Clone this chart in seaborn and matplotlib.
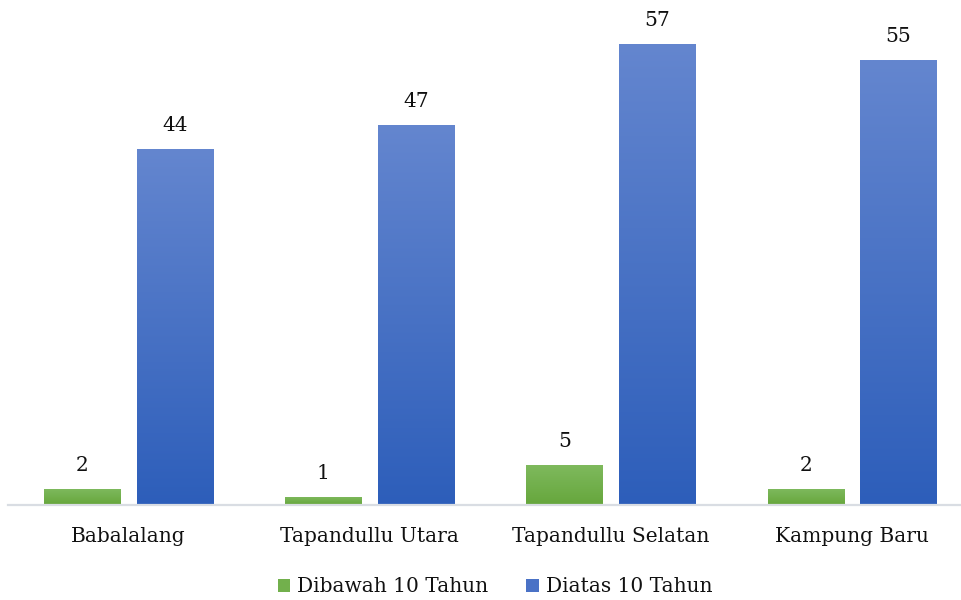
import numpy as np
import pandas as pd
import matplotlib
matplotlib.use("Agg")
import matplotlib.pyplot as plt
from matplotlib.patches import Patch
from matplotlib.colors import to_rgb
import seaborn as sns

# Data
regions = ["Babalalang", "Tapandullu Utara", "Tapandullu Selatan", "Kampung Baru"]
series_names = ["Dibawah 10 Tahun", "Diatas 10 Tahun"]
under_10 = [2, 1, 5, 2]
over_10 = [44, 47, 57, 55]

# Gradient colours per series: (top, bottom)
gradients = {
    "Dibawah 10 Tahun": ("#7fba5e", "#66a63c"),
    "Diatas 10 Tahun": ("#6486cf", "#2d5eba"),
}
legend_colors = {"Dibawah 10 Tahun": "#72b04c", "Diatas 10 Tahun": "#4a72c6"}

df = pd.DataFrame({
    "Wilayah": regions * 2,
    "Kelompok": [series_names[0]] * len(regions) + [series_names[1]] * len(regions),
    "Jumlah": under_10 + over_10,
})

sns.set_theme(style="white")
plt.rcParams["font.family"] = ["DejaVu Serif"]
text_color = "#111111"
fs = 14.5

fig = plt.figure(figsize=(9.62, 6.0), dpi=100)
ax = fig.add_axes([8 / 962, 95 / 600, 953 / 962, 495 / 600])

palette = {k: v[1] for k, v in gradients.items()}
sns.barplot(data=df, x="Wilayah", y="Jumlah", hue="Kelompok",
            hue_order=series_names, order=regions, palette=palette,
            width=0.768, gap=0.178, ax=ax, legend=False, errorbar=None,
            saturation=1.0)

# Replace flat fills with vertical gradients and label each bar
for i, bar in enumerate(list(ax.patches)):
    series = series_names[i // len(regions)]
    top, bottom = (np.array(to_rgb(c)) for c in gradients[series])
    x, y = bar.get_x(), bar.get_y()
    w, h = bar.get_width(), bar.get_height()
    t = np.linspace(0, 1, 256)[:, None, None]
    img = bottom * (1 - t) + top * t
    im = ax.imshow(img, extent=[x, x + w, y, y + h], origin="lower",
                   aspect="auto", zorder=bar.get_zorder(), interpolation="bilinear")
    im.set_clip_path(bar)
    bar.set_facecolor("none")
    bar.set_edgecolor("none")
    ax.annotate(f"{int(round(h))}", (x + w / 2, h), xytext=(0, 10),
                textcoords="offset points", ha="center", va="bottom",
                fontsize=fs, color=text_color)

ax.set_xlim(-0.5, 3.5 - 11.5 / 241)
ax.set_ylim(0, 61.2)
ax.set_xlabel("")
ax.set_ylabel("")
ax.set_yticks([])
ax.tick_params(axis="x", length=0, pad=16, labelsize=fs, labelcolor=text_color)
for side in ["left", "right", "top"]:
    ax.spines[side].set_visible(False)
ax.spines["bottom"].set_color("#d9dde3")
ax.spines["bottom"].set_linewidth(1.6)

handles = [Patch(facecolor=legend_colors[s], edgecolor="none", label=s)
           for s in series_names]
fig.legend(handles=handles, loc="center", bbox_to_anchor=(495 / 962, 1 - 587 / 600),
           ncol=2, frameon=False, fontsize=fs, handlelength=0.6, handleheight=0.6,
           handletextpad=0.35, columnspacing=1.9, labelcolor=text_color)

fig.savefig("out.png", dpi=100, facecolor="white")
